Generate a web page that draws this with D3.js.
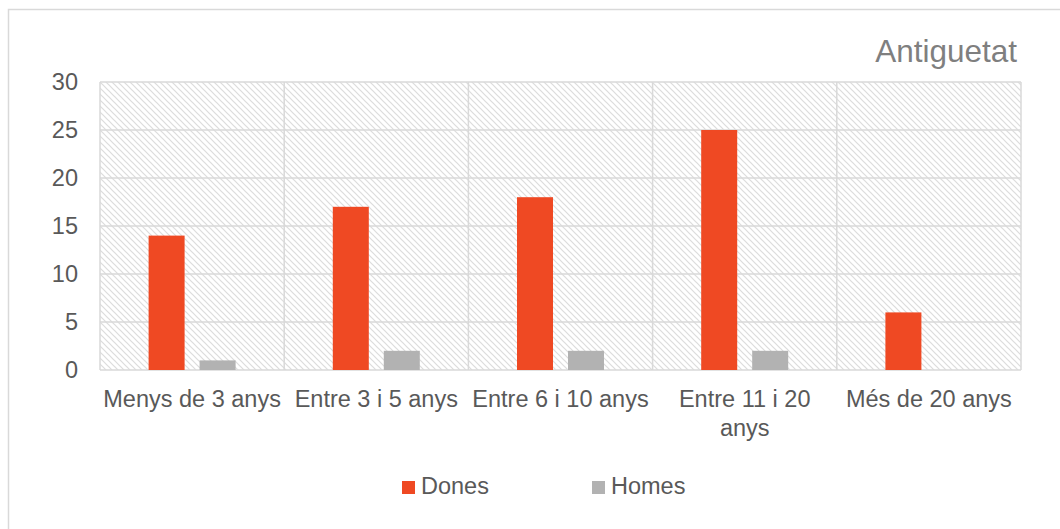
<!DOCTYPE html>
<html>
<head>
<meta charset="utf-8">
<script src="https://cdn.jsdelivr.net/npm/d3@7"></script>
<style>
  html, body { margin: 0; padding: 0; background: #fff; }
  svg { display: block; font-family: "Liberation Sans", Arial, sans-serif; }
</style>
</head>
<body>
<div id="chart"></div>
<script>
const categories = ["Menys de 3 anys", "Entre 3 i 5 anys", "Entre 6 i 10 anys", "Entre 11 i 20 anys", "Més de 20 anys"];
const seriesNames = ["Dones", "Homes"];
const dones = [14, 17, 18, 25, 6];
const homes = [1, 2, 2, 2, 0];
const yTickValues = [0, 5, 10, 15, 20, 25, 30];
const chartTitle = "Antiguetat";

const colors = { Dones: "#EF4923", Homes: "#B2B2B2" };
const width = 1060;
const height = 529;
const margin = { top: 82, right: 39, bottom: 159, left: 100 };
const fontSize = 23.5;
const textColor = "#595959";

const rows = categories.map((c, i) => ({ category: c, Dones: dones[i], Homes: homes[i] }));

const svg = d3.select("#chart")
  .append("svg")
  .attr("width", width)
  .attr("height", height);

// outer chart frame (runs past the right/bottom edges of the picture)
svg.append("rect")
  .attr("x", 8.5)
  .attr("y", 9.5)
  .attr("width", width + 20)
  .attr("height", height + 20)
  .attr("fill", "#fff")
  .attr("stroke", "#d9d9d9")
  .attr("stroke-width", 1.5);

const defs = svg.append("defs");
const hatch = defs.append("pattern")
  .attr("id", "hatch")
  .attr("patternUnits", "userSpaceOnUse")
  .attr("width", 6)
  .attr("height", 6);
hatch.append("rect").attr("width", 6).attr("height", 6).attr("fill", "#fff");
hatch.append("path")
  .attr("d", "M-1,-1 L7,7 M-1,5 L1,7 M5,-1 L7,1")
  .attr("stroke", "#dcdcdc")
  .attr("stroke-width", 1.2);

const x0 = d3.scaleBand()
  .domain(categories)
  .range([margin.left, width - margin.right])
  .padding(0);

const x1 = d3.scaleBand()
  .domain(seriesNames)
  .range([0, x0.bandwidth()])
  .paddingInner(0.294)
  .paddingOuter(0.953);

const y = d3.scaleLinear()
  .domain([0, 30])
  .range([height - margin.bottom, margin.top]);

// plot area hatch
svg.append("rect")
  .attr("x", margin.left)
  .attr("y", margin.top)
  .attr("width", width - margin.left - margin.right)
  .attr("height", height - margin.top - margin.bottom)
  .attr("fill", "url(#hatch)");

// horizontal grid
svg.append("g")
  .selectAll("line")
  .data(yTickValues)
  .join("line")
  .attr("x1", margin.left)
  .attr("x2", width - margin.right)
  .attr("y1", (d) => y(d))
  .attr("y2", (d) => y(d))
  .attr("stroke", "#d9d9d9")
  .attr("stroke-width", 1.5);

// vertical grid at category boundaries
const boundaries = categories.map((c) => x0(c)).concat([width - margin.right]);
svg.append("g")
  .selectAll("line")
  .data(boundaries)
  .join("line")
  .attr("x1", (d) => d)
  .attr("x2", (d) => d)
  .attr("y1", margin.top)
  .attr("y2", height - margin.bottom)
  .attr("stroke", "#d9d9d9")
  .attr("stroke-width", 1.5);

// bars
const groups = svg.append("g")
  .selectAll("g")
  .data(rows)
  .join("g")
  .attr("transform", (d) => `translate(${x0(d.category)},0)`);

groups.selectAll("rect")
  .data((d) => seriesNames.map((k) => ({ key: k, value: d[k] })))
  .join("rect")
  .attr("x", (d) => x1(d.key))
  .attr("width", x1.bandwidth())
  .attr("y", (d) => y(d.value))
  .attr("height", (d) => y(0) - y(d.value))
  .attr("fill", (d) => colors[d.key]);

// y axis labels
const yAxis = d3.axisLeft(y).tickValues(yTickValues).tickSize(0).tickPadding(22);
const yAxisG = svg.append("g")
  .attr("transform", `translate(${margin.left},0)`)
  .call(yAxis);
yAxisG.select(".domain").remove();
yAxisG.selectAll("text")
  .attr("fill", textColor)
  .attr("font-size", fontSize)
  .attr("font-family", "Liberation Sans, Arial, sans-serif");

// x axis labels, wrapped to band width
const xAxis = d3.axisBottom(x0).tickSize(0).tickPadding(0);
const xAxisG = svg.append("g")
  .attr("transform", `translate(0,${y(0)})`)
  .call(xAxis);
xAxisG.select(".domain").remove();
xAxisG.selectAll("text")
  .attr("fill", textColor)
  .attr("font-size", fontSize)
  .attr("font-family", "Liberation Sans, Arial, sans-serif")
  .attr("dy", null)
  .attr("y", 37)
  .each(function () {
    const text = d3.select(this);
    const words = text.text().split(/\s+/);
    const maxWidth = x0.bandwidth() - 2;
    text.text(null);
    let line = [];
    let lineNo = 0;
    let tspan = text.append("tspan").attr("x", 0).attr("y", 37);
    words.forEach((w) => {
      line.push(w);
      tspan.text(line.join(" "));
      if (tspan.node().getComputedTextLength() > maxWidth && line.length > 1) {
        line.pop();
        tspan.text(line.join(" "));
        line = [w];
        lineNo += 1;
        tspan = text.append("tspan").attr("x", 0).attr("y", 37 + lineNo * 29).text(w);
      }
    });
  });

// title
svg.append("text")
  .attr("x", 1017)
  .attr("y", 62)
  .attr("text-anchor", "end")
  .attr("fill", "#7f7f7f")
  .attr("font-size", 31.5)
  .text(chartTitle);

// legend
const legendX = [402, 592];
const legend = svg.append("g")
  .selectAll("g")
  .data(seriesNames)
  .join("g")
  .attr("transform", (d, i) => `translate(${legendX[i]},481)`);
legend.append("rect")
  .attr("width", 13)
  .attr("height", 13)
  .attr("fill", (d) => colors[d]);
legend.append("text")
  .attr("x", 19)
  .attr("y", 13)
  .attr("fill", textColor)
  .attr("font-size", fontSize)
  .text((d) => d);
</script>
</body>
</html>
